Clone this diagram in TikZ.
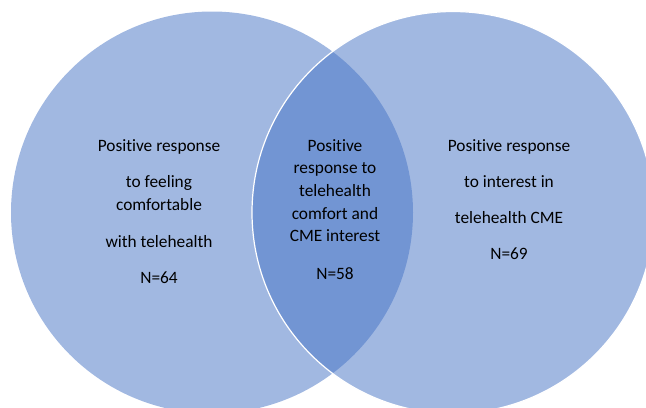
\documentclass[tikz,border=0pt]{standalone}
\usepackage{fontspec}
\setmainfont{Carlito}[Ligatures=NoCommon]
\usepackage{xcolor}
\usepackage{tikz}
\usetikzlibrary{positioning}

\definecolor{vennblue}{RGB}{68,114,196}

\begin{document}
\begin{tikzpicture}[
    x=0.75pt, y=-0.75pt,
    set/.style={fill=vennblue, fill opacity=0.5},
    label/.style={align=center, inner sep=0pt, anchor=north, text=black,
      font=\fontsize{13}{17}\selectfont}
  ]
    \useasboundingbox (0,0) rectangle (646,407);
    \clip (0,0) rectangle (646,407);
    % the two sets
    \fill[set] (212,212.5) circle[radius=201];
    \fill[set] (453,212.5) circle[radius=201];
    \draw[white, line width=0.9pt] (453,212.5) circle[radius=201];

    \node[label] (comfort) at (159,139) {Positive response\\[10.5pt] to feeling\\ comfortable\\[10.5pt] with telehealth\\[10.5pt] N=64};
    \node[label] (both) at (335,139) {Positive\\ response to\\ telehealth\\ comfort and\\ CME interest\\[11pt] N=58};
    \node[label] (interest) at (509,139) {Positive response\\[10pt] to interest in\\[10pt] telehealth CME\\[10pt] N=69};
  \end{tikzpicture}
\end{document}
